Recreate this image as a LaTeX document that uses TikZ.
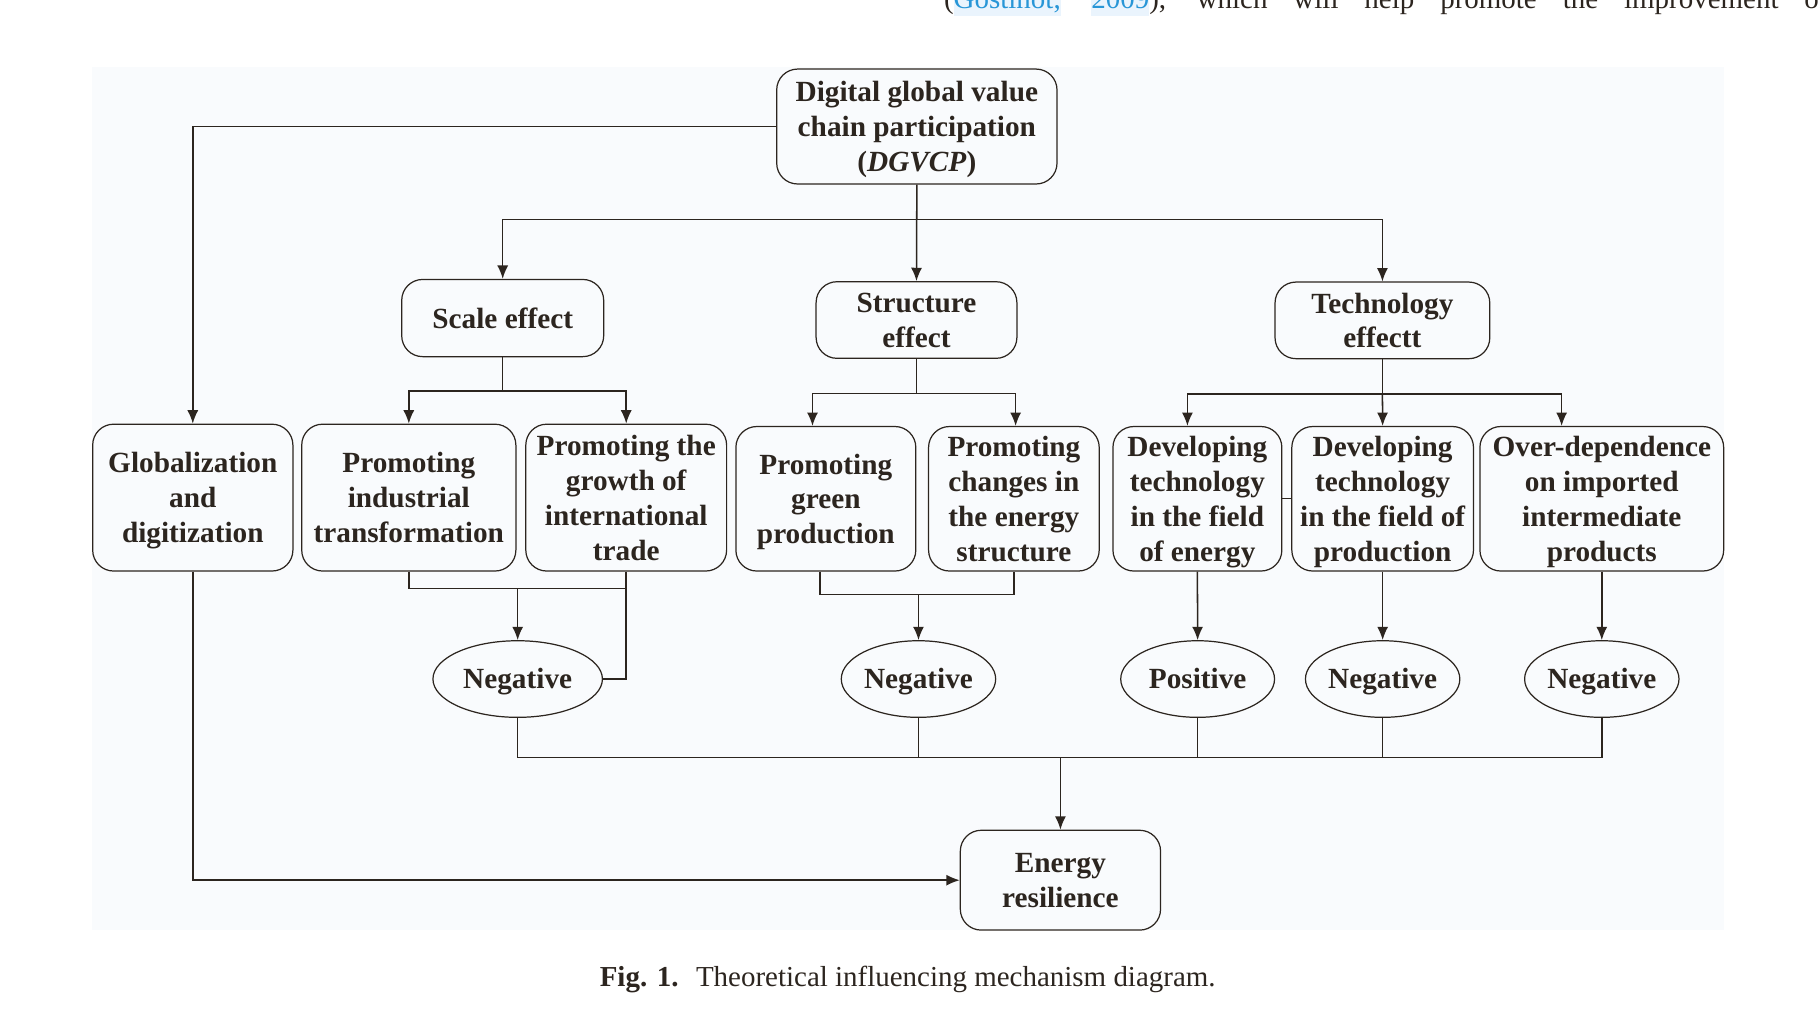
\documentclass[tikz,border=0pt]{standalone}
\usepackage{fontspec}
\setmainfont{Liberation Serif}
\usetikzlibrary{arrows.meta,shapes.geometric}
\definecolor{ink}{RGB}{44,37,31}
\definecolor{panel}{RGB}{249,251,253}
\definecolor{citeblue}{RGB}{40,150,215}
\definecolor{hlblue}{RGB}{234,244,253}
\newcommand\boxfont{\fontsize{14.35}{17.1}\selectfont\bfseries}
\newcommand\capfont{\fontsize{14.2}{17}\selectfont}
\newlength\hlwd
\newcommand\hlword[1]{\settowidth\hlwd{#1}\rlap{\textcolor{hlblue}{\rule[-3.8pt]{\hlwd}{22pt}}}\textcolor{citeblue}{#1}}
\begin{document}
\begin{tikzpicture}[x=0.2mm,y=-0.2mm]
\tikzstyle{every node}+=[inner sep=0pt, text=ink]
\tikzstyle{box}=[draw=ink, line width=0.6pt, rounded corners=3.6mm, align=center, text depth=0pt, font=\boxfont]
\tikzstyle{oval}=[draw=ink, line width=0.6pt, ellipse, minimum height=13.2mm, text height=9.7pt, text depth=0pt, font=\boxfont]
\tikzstyle{link}=[draw=ink, line width=0.75pt]
\tikzstyle{arr}=[link, -{Latex[length=2.3mm,width=1.9mm]}]
\useasboundingbox (0,0) rectangle (1568,875.3);
\fill [panel] (79.3,57.7) rectangle (1485,801.2);
\node [anchor=base west, font=\capfont] (cite) at (813,7.2) {\makebox[152.4mm][s]{(\hlword{Gostinot,} \hlword{2009}), which will help promote the improvement of}};
\node [box, minimum width=48.3mm, minimum height=19.8mm] (dgvcp) at (789.9,109) {Digital global value\\chain participation\\(\textit{DGVCP})};
\node [box, minimum width=34.8mm, minimum height=13.3mm] (scale) at (433.1,274) {Scale effect};
\node [box, minimum width=34.6mm, minimum height=13.2mm] (struct) at (789.6,275.7) {Structure\\effect};
\node [box, minimum width=37mm, minimum height=13.2mm] (tech) at (1191,276) {Technology\\effectt};
\node [box, minimum width=34.5mm, minimum height=25.3mm] (glob) at (166.1,428.7) {Globalization\\and\\digitization};
\node [box, minimum width=36.9mm, minimum height=25.3mm] (ind) at (352.2,428.7) {Promoting\\industrial\\transformation};
\node [box, minimum width=34.6mm, minimum height=25.3mm] (trade) at (539.5,428.7) {Promoting the\\growth of\\international\\trade};
\node [box, minimum width=31mm, minimum height=24.9mm] (green) at (711.5,429.7) {Promoting\\green\\production};
\node [box, minimum width=29.4mm, minimum height=24.9mm] (change) at (873.5,429.7) {Promoting\\changes in\\the energy\\structure};
\node [box, minimum width=29.1mm, minimum height=24.9mm] (deve) at (1031.6,429.7) {Developing\\technology\\in the field\\of energy};
\node [box, minimum width=31.3mm, minimum height=24.9mm] (devp) at (1191.2,429.7) {Developing\\technology\\in the field of\\production};
\node [box, minimum width=42mm, minimum height=24.9mm] (over) at (1380,429.7) {Over-dependence\\on imported\\intermediate\\products};
\node [oval, minimum width=29.2mm] (neg1) at (446,585) {Negative};
\node [oval, minimum width=26.6mm] (neg2) at (791.3,585) {Negative};
\node [oval, minimum width=26.5mm] (pos) at (1031.8,585) {Positive};
\node [oval, minimum width=26.6mm] (neg3) at (1191.2,585) {Negative};
\node [oval, minimum width=26.6mm] (neg4) at (1380,585) {Negative};
\node [box, minimum width=34.5mm, minimum height=17.2mm] (energy) at (913.6,758.3) {Energy\\resilience};
\node [anchor=base, font=\capfont] (caption) at (782,850) {\textbf{Fig. 1.}\hspace{0.6em}Theoretical influencing mechanism diagram.};
\coordinate (f1) at (789.9,189);
\coordinate (f2) at (433.1,337);
\coordinate (f3) at (789.6,339);
\coordinate (g1) at (700,339);
\coordinate (g2) at (875,339);
\coordinate (f4) at (1191,339.4);
\coordinate (t1) at (1023,339.4);
\coordinate (t3) at (1345.4,339.4);
\coordinate (j1) at (446,507);
\coordinate (j2) at (791.3,512);
\coordinate (j3) at (913.6,652.8);
\draw [arr] (dgvcp.west) -| (glob.north);
\draw [arr] (dgvcp.south) -- (struct.north);
\draw [arr] (f1) -| (scale.north);
\draw [arr] (f1) -| (tech.north);
\draw [link] (scale.south) -- (f2);
\draw [arr] (f2) -| (ind.north);
\draw [arr] (f2) -| (trade.north);
\draw [link] (struct.south) -- (f3);
\draw [link] (g1) -- (g2);
\draw [arr] (g1) -- (g1 |- green.north);
\draw [arr] (g2) -- (g2 |- change.north);
\draw [link] (tech.south) -- (f4);
\draw [link] (t1) -- (t3);
\draw [arr] (t1) -- (t1 |- deve.north);
\draw [arr] (f4) -- (devp.north);
\draw [arr] (t3) -- (t3 |- over.north);
\draw [link, line width=0.5pt] (deve.east) -- (devp.west);
\draw [link] (ind.south) |- (j1) -- (j1 -| trade.south);
\draw [link] (trade.south) |- (neg1.east);
\draw [arr] (j1) -- (neg1.north);
\draw [link] ([xshift=-1mm]green.south) |- (j2) -| (change.south);
\draw [arr] (j2) -- (neg2.north);
\draw [arr] (deve.south) -- (pos.north);
\draw [arr] (devp.south) -- (neg3.north);
\draw [arr] (over.south) -- (neg4.north);
\draw [link] (neg1.south) |- (neg4.south |- j3) -- (neg4.south);
\draw [link] (neg2.south) -- (neg2.south |- j3);
\draw [link] (pos.south) -- (pos.south |- j3);
\draw [link] (neg3.south) -- (neg3.south |- j3);
\draw [arr] (j3) -- (energy.north);
\draw [arr] (glob.south) |- (energy.west);
\end{tikzpicture}
\end{document}
